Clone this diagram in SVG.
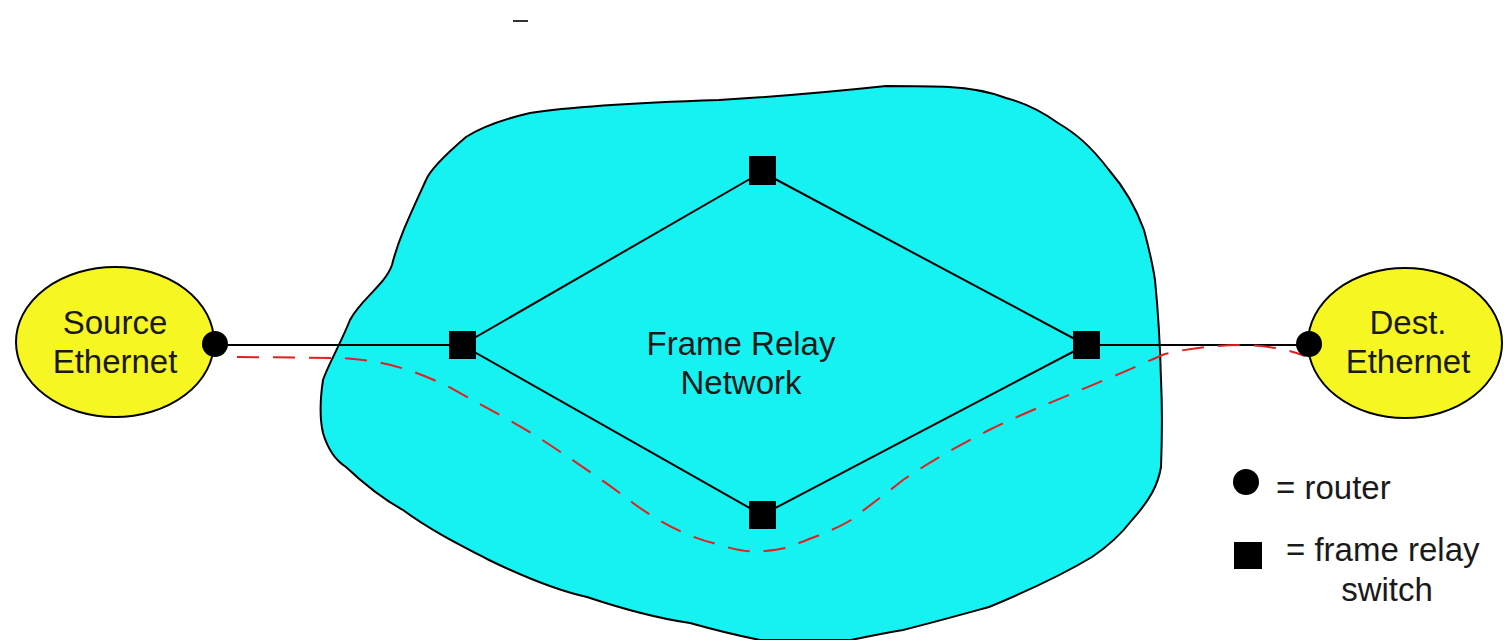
<svg xmlns="http://www.w3.org/2000/svg" width="1504" height="640" viewBox="0 0 1504 640">
<style>
.txt{font-family:"Liberation Sans",Arial,sans-serif;font-size:33px;fill:#1a1a1a;text-anchor:middle}
.lg{font-family:"Liberation Sans",Arial,sans-serif;font-size:33px;fill:#1a1a1a}
.link{stroke:#000;stroke-width:2;fill:none}
.eth{fill:#f6f623;stroke:#000;stroke-width:2}
.sw{fill:#000}
</style>
<rect width="1504" height="640" fill="#fff"/>
<line x1="513" y1="21" x2="528" y2="21" stroke="#333" stroke-width="2"/>
<g id="cloud">
<path d="M466,137 C445,155 430,170 426,180 C410,215 398,240 392,265 C385,285 360,300 350,320 C340,345 328,365 323,380 C320,400 320,420 323,433 C328,450 335,460 346,467 C365,485 385,500 403,510 C430,530 460,545 489,560 C520,575 555,590 587,597 C620,608 655,618 690,623 C715,630 740,636 760,640 L851,640 C870,636 885,633 903,630 C935,622 960,615 989,607 C1030,590 1062,575 1092,557 C1110,545 1122,533 1132,520 C1150,500 1158,485 1161,467 C1162,440 1162,400 1161,380 C1160,340 1158,310 1155,280 C1152,260 1148,245 1144,230 C1135,205 1122,185 1109,170 C1090,145 1075,133 1058,123 C1040,110 1025,103 1006,98 C990,92 970,88 949,87 C930,86 905,86 886,86 C830,92 770,97 719,100 C660,102 580,105 530,113 C500,120 480,128 466,137 Z" fill="#16f2f2" stroke="#000" stroke-width="2"/>
</g>
<g id="connectors">
<line class="link" x1="215" y1="345" x2="462" y2="345"/>
<line class="link" x1="462" y1="345" x2="762" y2="172"/>
<line class="link" x1="762" y1="172" x2="1086" y2="345"/>
<line class="link" x1="1086" y1="345" x2="762" y2="515"/>
<line class="link" x1="762" y1="515" x2="462" y2="345"/>
<line class="link" x1="1086" y1="345" x2="1309" y2="345"/>
<path d="M237,357 L340,358 C380,360 410,368 449,387 C490,410 520,425 547,443 C580,465 610,485 633,503 C670,530 700,540 713,543 C735,550 750,553 765,551 C785,549 795,546 799,543 C820,535 838,528 851,520 C870,505 888,492 903,480 C940,455 965,443 989,430 C1030,410 1070,395 1104,380 C1130,370 1150,360 1165,354 C1190,348 1215,345 1245,345 C1270,346 1290,350 1305,356" fill="none" stroke="#e02020" stroke-width="2" stroke-dasharray="22 14"/>
</g>
<g id="source-ethernet">
<ellipse class="eth" cx="115" cy="342" rx="99" ry="75"/>
<text class="txt" x="115" y="334">Source</text>
<text class="txt" x="115" y="373">Ethernet</text>
</g>
<g id="source-router"><circle cx="215" cy="344" r="13" fill="#000"/></g>
<g id="dest-ethernet">
<ellipse class="eth" cx="1405" cy="343" rx="97" ry="75"/>
<text class="txt" x="1408" y="334">Dest.</text>
<text class="txt" x="1408" y="373">Ethernet</text>
</g>
<g id="dest-router"><circle cx="1309" cy="344" r="13" fill="#000"/></g>
<g id="switch-left"><rect class="sw" x="449" y="331" width="27" height="28"/></g>
<g id="switch-top"><rect class="sw" x="749" y="156" width="27" height="29"/></g>
<g id="switch-right"><rect class="sw" x="1073" y="331" width="27" height="28"/></g>
<g id="switch-bottom"><rect class="sw" x="749" y="501" width="27" height="28"/></g>
<g id="network-label">
<text class="txt" x="741" y="355">Frame Relay</text>
<text class="txt" x="741" y="394">Network</text>
</g>
<g id="legend">
<circle cx="1246" cy="482" r="13" fill="#000"/>
<text class="lg" x="1276" y="499">= router</text>
<rect x="1234" y="542" width="28" height="27" fill="#000"/>
<text class="lg" x="1286" y="561">= frame relay</text>
<text class="txt" x="1387" y="601">switch</text>
</g>
</svg>
